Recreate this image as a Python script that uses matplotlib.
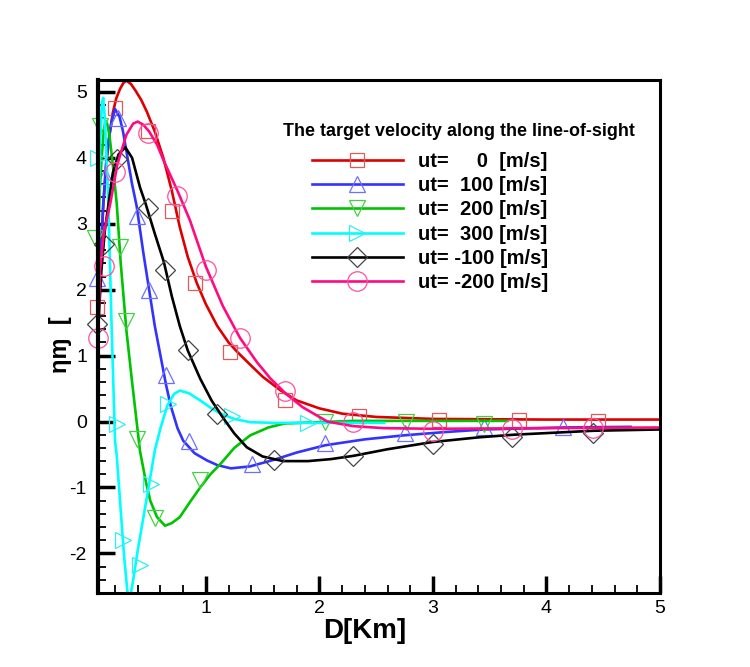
import matplotlib.pyplot as plt
from matplotlib.lines import Line2D
from matplotlib.ticker import MultipleLocator

plt.rcParams['font.family'] = ['Liberation Sans', 'DejaVu Sans']
plt.rcParams['axes.unicode_minus'] = False

# curves: D [Km] -> value
red_x = [0.05, 0.07, 0.096, 0.127, 0.155, 0.18, 0.21, 0.245, 0.275, 0.30, 0.34, 0.38, 0.43, 0.48,
         0.55, 0.625, 0.70, 0.77, 0.84, 0.92, 1.0, 1.1, 1.2, 1.28, 1.38, 1.5, 1.66, 1.8, 2.0, 2.2,
         2.5, 3.0, 4.0, 5.0]
red_y = [1.6, 2.3, 3.27, 3.98, 4.4, 4.68, 4.9, 5.05, 5.14, 5.17, 5.12, 5.02, 4.88, 4.7,
         4.4, 4.0, 3.5, 2.95, 2.5, 2.1, 1.78, 1.45, 1.2, 1.05, 0.88, 0.68, 0.47, 0.32, 0.2, 0.12,
         0.07, 0.04, 0.03, 0.03]

blue_x = [0.05, 0.07, 0.096, 0.12, 0.14, 0.17, 0.20, 0.24, 0.27, 0.30, 0.35, 0.39, 0.45, 0.5,
          0.55, 0.6, 0.65, 0.69, 0.75, 0.8, 0.9, 1.01, 1.1, 1.22, 1.39, 1.6, 1.8, 2.05, 2.4,
          2.74, 3.1, 3.45, 4.15, 4.74]
blue_y = [1.5, 2.4, 3.3, 3.9, 4.23, 4.55, 4.74, 4.62, 4.4, 4.1, 3.6, 3.27, 2.55, 2.0,
          1.45, 1.0, 0.55, 0.24, -0.1, -0.29, -0.48, -0.59, -0.66, -0.71, -0.68, -0.58, -0.47, -0.36, -0.27,
          -0.21, -0.16, -0.12, -0.09, -0.08]

green_x = [0.05, 0.065, 0.08, 0.1, 0.115, 0.13, 0.15, 0.18, 0.215, 0.25, 0.3, 0.35, 0.42, 0.47, 0.51,
           0.57, 0.64, 0.7, 0.77, 0.86, 0.95, 1.04, 1.13, 1.25, 1.39, 1.55, 1.69, 1.98, 2.3, 3.0, 3.66]
green_y = [2.8, 3.5, 3.95, 4.4, 4.56, 4.52, 4.35, 3.9, 3.3, 2.4, 1.38, 0.6, -0.45, -0.9, -1.2,
           -1.45, -1.58, -1.54, -1.45, -1.22, -1.0, -0.8, -0.64, -0.4, -0.21, -0.09, -0.03, -0.01, 0.01, 0.01, 0.01]

cyan_x = [0.05, 0.07, 0.085, 0.096, 0.11, 0.125, 0.14, 0.155, 0.17, 0.2, 0.215, 0.25, 0.28, 0.31,
          0.325, 0.34, 0.36, 0.4, 0.45, 0.5, 0.55, 0.6, 0.66, 0.72, 0.77, 0.85, 0.95, 1.05, 1.13,
          1.25, 1.39, 1.6, 2.0, 2.57]
cyan_y = [2.6, 4.3, 4.85, 4.91, 4.6, 4.0, 3.35, 2.4, 1.42, -0.3, -0.52, -1.35, -2.05, -2.6,
          -2.75, -2.6, -2.4, -1.95, -1.45, -0.95, -0.44, -0.1, 0.24, 0.42, 0.47, 0.43, 0.32, 0.2, 0.12,
          0.04, -0.01, -0.02, -0.02, -0.02]

black_x = [0.05, 0.08, 0.11, 0.14, 0.18, 0.23, 0.29, 0.35, 0.42, 0.47, 0.55, 0.63, 0.7, 0.77, 0.84,
           0.95, 1.05, 1.15, 1.25, 1.36, 1.5, 1.68, 1.9, 2.1, 2.3, 2.6, 3.0, 3.4, 3.71, 4.41, 5.0]
black_y = [1.4, 2.3, 2.9, 3.27, 3.77, 4.05, 4.16, 4.0, 3.55, 3.3, 2.85, 2.42, 1.9, 1.45, 1.08,
           0.65, 0.32, 0.06, -0.18, -0.39, -0.53, -0.6, -0.6, -0.57, -0.52, -0.42, -0.31, -0.24, -0.2, -0.14, -0.12]

pink_x = [0.05, 0.068, 0.1, 0.157, 0.22, 0.3, 0.36, 0.4, 0.45, 0.5, 0.57, 0.63, 0.75, 0.86, 1.0,
          1.15, 1.3, 1.45, 1.57, 1.7, 1.85, 2.07, 2.3, 2.57, 3.0, 4.0, 5.0]
pink_y = [1.2, 2.3, 2.85, 3.3, 3.9, 4.35, 4.52, 4.55, 4.5, 4.4, 4.2, 3.95, 3.5, 3.05, 2.35,
          1.75, 1.27, 0.9, 0.65, 0.43, 0.22, 0.0, -0.07, -0.1, -0.11, -0.1, -0.09]

# symbol positions
red_mx = [0.04, 0.20, 0.49, 0.70, 0.90, 1.21, 1.70, 2.35, 3.05, 3.76, 4.45]
red_my = [1.73, 4.75, 4.41, 3.2, 2.1, 1.05, 0.32, 0.08, 0.03, 0.02, 0.01]
blue_mx = [0.04, 0.11, 0.23, 0.39, 0.50, 0.65, 0.85, 1.41, 2.05, 2.75, 3.45, 4.15]
blue_my = [2.17, 3.73, 4.6, 3.12, 2.0, 0.7, -0.29, -0.64, -0.33, -0.18, -0.09, -0.08]
green_mx = [0.025, 0.07, 0.245, 0.30, 0.39, 0.55, 0.95, 2.05, 2.76, 3.45]
green_my = [2.79, 4.48, 2.64, 1.53, -0.26, -1.47, -0.89, -0.01, 0.0, -0.03]
cyan_mx = [0.05, 0.215, 0.27, 0.42, 0.52, 0.67, 1.23, 1.90]
cyan_my = [4.0, -0.03, -1.8, -2.18, -0.94, 0.27, 0.09, -0.02]
black_mx = [0.04, 0.10, 0.215, 0.49, 0.64, 0.84, 1.10, 1.60, 2.30, 3.0, 3.70, 4.41]
black_my = [1.48, 2.7, 3.98, 3.24, 2.3, 1.08, 0.12, -0.59, -0.52, -0.34, -0.24, -0.18]
pink_mx = [0.05, 0.10, 0.20, 0.49, 0.745, 1.0, 1.30, 1.70, 2.30, 3.0, 3.70, 4.41]
pink_my = [1.26, 2.36, 3.78, 4.38, 3.42, 2.3, 1.27, 0.47, -0.01, -0.14, -0.12, -0.1]

labels = ['ut=     0  [m/s]', 'ut=  100 [m/s]', 'ut=  200 [m/s]',
          'ut=  300 [m/s]', 'ut= -100 [m/s]', 'ut= -200 [m/s]']

series = [
    (red_x, red_y, red_mx, red_my, '#dd0000', '#e05a5a', 's', 10),
    (blue_x, blue_y, blue_mx, blue_my, '#3333ff', '#6f6fff', '^', 12),
    (green_x, green_y, green_mx, green_my, '#00c400', '#44d044', 'v', 12),
    (cyan_x, cyan_y, cyan_mx, cyan_my, '#00ffff', '#33eeee', '>', 12),
    (black_x, black_y, black_mx, black_my, '#000000', '#444444', 'D', 10),
    (pink_x, pink_y, pink_mx, pink_my, '#ff0a80', '#ff4f9f', 'o', 14),
]

fig = plt.figure(figsize=(7.5, 6.67), dpi=100)
ax = fig.add_axes([0.1307, 0.111, 0.7493, 0.769])

handles = []
for (x, y, mx, my, c, mc, m, ms), lab in zip(series, labels):
    ax.plot(x, y, color=c, lw=1.9)
    ax.plot(mx, my, ls='none', marker=m, ms=ms, mfc='none', mec=mc, mew=0.9, clip_on=False)
    handles.append(Line2D([], [], color=c, lw=1.9, marker=m, ms=ms, mfc='none', mec=mc, mew=0.9))

ax.set_xlim(0.05, 5)
ax.set_ylim(-2.6, 5.18)
ax.xaxis.set_major_locator(MultipleLocator(1))
ax.xaxis.set_minor_locator(MultipleLocator(0.2))
ax.yaxis.set_major_locator(MultipleLocator(1))
ax.yaxis.set_minor_locator(MultipleLocator(0.2))
ax.tick_params(which='both', direction='in', top=False, right=False)
ax.tick_params(which='major', length=12, width=2.5, labelsize=14)
ax.tick_params(which='minor', length=6, width=1.3)
ax.tick_params(axis='x', which='major', pad=5)
ax.tick_params(axis='y', which='major', pad=8)
for s in ax.spines.values():
    s.set_linewidth(2.2)
ax.spines['left'].set_linewidth(3)

fig.text(365 / 750, 1 - 631 / 667, 'D[Km]', fontsize=20, fontweight='bold',
         ha='center', va='center')
fig.text(60 / 750, 1 - 345 / 667, 'ηɱ  [', rotation=90, fontsize=17, fontweight='bold',
         ha='center', va='center')

fig.text(283 / 750, 1 - 132 / 667, 'The target velocity along the line-of-sight',
         fontsize=12.9, fontweight='bold', va='center')
ax.legend(handles, labels, loc='upper left', bbox_to_anchor=(312 / 750, 1 - 152 / 667),
          bbox_transform=fig.transFigure, frameon=False, numpoints=1, handlelength=4.5,
          handletextpad=0.75, labelspacing=0.26, borderpad=0, borderaxespad=0,
          prop={'size': 14.5, 'weight': 'bold'})

fig.savefig('out.png', dpi=100)
